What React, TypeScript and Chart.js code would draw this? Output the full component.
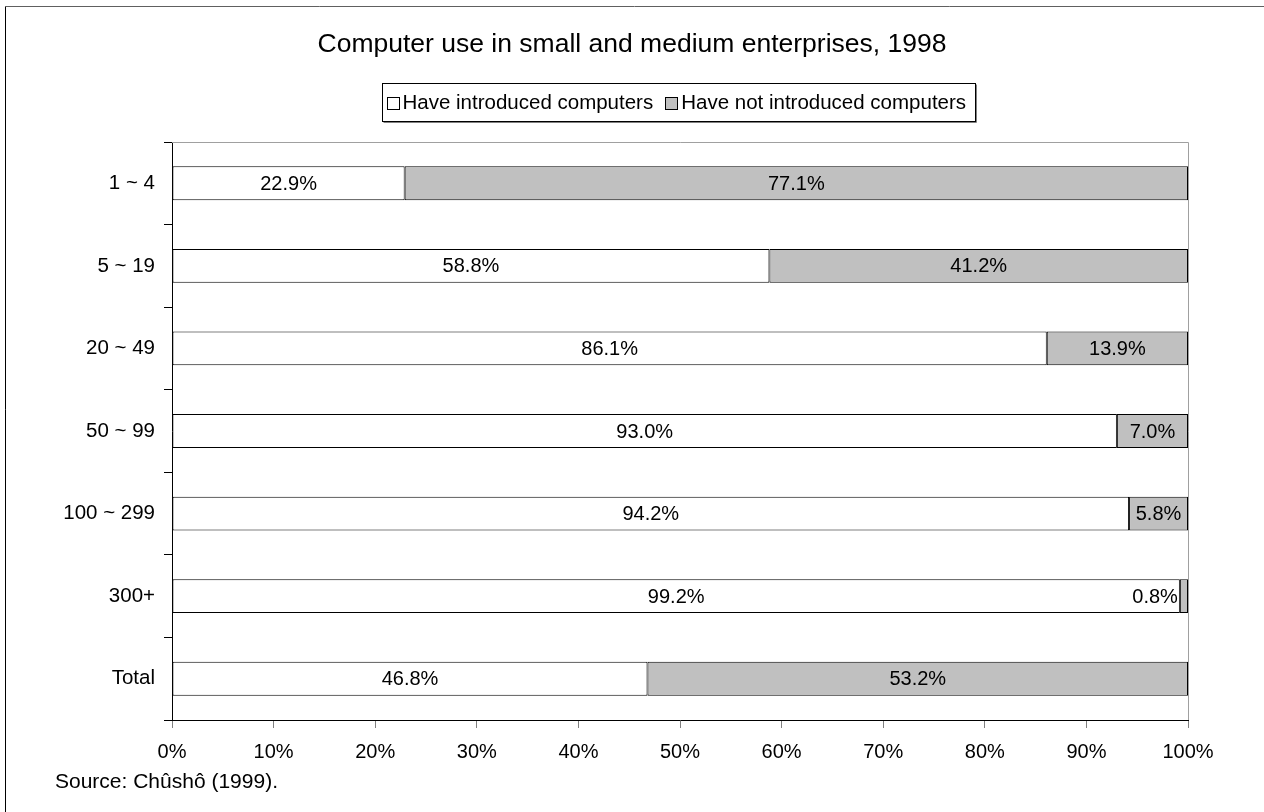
import React, { useEffect, useRef } from "react";
import { Chart, registerables } from "chart.js";

Chart.register(...registerables);

const categories = ["1 ~ 4", "5 ~ 19", "20 ~ 49", "50 ~ 99", "100 ~ 299", "300+", "Total"];
const introduced = [22.9, 58.8, 86.1, 93.0, 94.2, 99.2, 46.8];
const notIntroduced = [77.1, 41.2, 13.9, 7.0, 5.8, 0.8, 53.2];
const seriesNames = ["Have introduced computers", "Have not introduced computers"];
const seriesColors = ["#FFFFFF", "#C0C0C0"];
const titleText = "Computer use in small and medium enterprises, 1998";
const sourceText = "Source: Chûshô (1999).";

const FONT = "'Liberation Sans', Arial, sans-serif";

const decorPlugin = {
  id: "decor",
  afterDatasetsDraw(chart: any) {
    const ctx = chart.ctx;
    ctx.save();
    ctx.font = `20px ${FONT}`;
    ctx.fillStyle = "#000";
    ctx.textBaseline = "middle";
    chart.data.datasets.forEach((ds: any, di: number) => {
      const meta = chart.getDatasetMeta(di);
      meta.data.forEach((el: any, i: number) => {
        const p = el.getProps(["x", "y", "base"], true);
        const v = ds.data[i];
        const txt = v.toFixed(1) + "%";
        const w = ctx.measureText(txt).width;
        const left = Math.min(p.x, p.base);
        const right = Math.max(p.x, p.base);
        if (right - left < w + 6) {
          ctx.textAlign = "right";
          ctx.fillText(txt, left - 2, p.y + 1);
        } else {
          ctx.textAlign = "center";
          ctx.fillText(txt, (left + right) / 2, p.y + 1);
        }
      });
    });
    ctx.restore();
  },
  afterDraw(chart: any) {
    const ctx = chart.ctx;
    const a = chart.chartArea;
    ctx.save();
    // plot area top & right border
    ctx.strokeStyle = "#a0a0a0";
    ctx.lineWidth = 1;
    ctx.beginPath();
    ctx.moveTo(a.left, Math.round(a.top) + 0.5);
    ctx.lineTo(Math.round(a.right) + 0.5, Math.round(a.top) + 0.5);
    ctx.lineTo(Math.round(a.right) + 0.5, a.bottom);
    ctx.stroke();
    // outer border (left & top)
    ctx.strokeStyle = "#000";
    ctx.beginPath();
    ctx.moveTo(5.5, chart.height);
    ctx.lineTo(5.5, 6.5);
    ctx.stroke();
    ctx.strokeStyle = "#606060";
    ctx.beginPath();
    ctx.moveTo(5, 6.5);
    ctx.lineTo(chart.width, 6.5);
    ctx.stroke();
    // title
    ctx.fillStyle = "#000";
    ctx.font = `26.5px ${FONT}`;
    ctx.textAlign = "center";
    ctx.textBaseline = "middle";
    ctx.fillText(titleText, 632, 45);
    // legend
    ctx.font = `20.5px ${FONT}`;
    const sq = 12;
    const gap = 4;
    const between = 12;
    const padL = 4;
    const padR = 9;
    const w1 = ctx.measureText(seriesNames[0]).width;
    const w2 = ctx.measureText(seriesNames[1]).width;
    const total = padL + sq + gap + w1 + between + sq + gap + w2 + padR;
    const cx = (a.left + a.right) / 2 - 2;
    const bx = Math.round(cx - total / 2) + 0.5;
    const by = 83.5;
    const bh = 38;
    ctx.strokeStyle = "#000";
    ctx.strokeRect(bx, by, Math.round(total), bh);
    ctx.strokeStyle = "#808080";
    ctx.beginPath();
    ctx.moveTo(bx + 1, by + bh + 1);
    ctx.lineTo(bx + Math.round(total) + 1, by + bh + 1);
    ctx.lineTo(bx + Math.round(total) + 1, by + 1);
    ctx.stroke();
    const cy = by + bh / 2;
    let x = bx + padL;
    const drawSq = (color: string) => {
      ctx.fillStyle = color;
      ctx.fillRect(Math.round(x) + 0.5, Math.round(cy - sq / 2) + 0.5, sq, sq);
      ctx.strokeStyle = "#000";
      ctx.strokeRect(Math.round(x) + 0.5, Math.round(cy - sq / 2) + 0.5, sq, sq);
    };
    drawSq(seriesColors[0]);
    x += sq + gap;
    ctx.fillStyle = "#000";
    ctx.textAlign = "left";
    ctx.fillText(seriesNames[0], x, cy + 1);
    x += w1 + between;
    drawSq(seriesColors[1]);
    x += sq + gap;
    ctx.fillStyle = "#000";
    ctx.fillText(seriesNames[1], x, cy + 1);
    // source
    ctx.font = `21px ${FONT}`;
    ctx.textAlign = "left";
    ctx.fillText(sourceText, 55, 782);
    ctx.restore();
  },
};

export default function App() {
  const ref = useRef<HTMLCanvasElement>(null);
  useEffect(() => {
    document.body.style.margin = "0";
    const chart = new Chart(ref.current as HTMLCanvasElement, {
      type: "bar",
      data: {
        labels: categories,
        datasets: [
          {
            label: seriesNames[0],
            data: introduced,
            backgroundColor: seriesColors[0],
            borderColor: "#000",
            borderWidth: 1,
            borderSkipped: false,
            barPercentage: 0.41,
            categoryPercentage: 1,
          },
          {
            label: seriesNames[1],
            data: notIntroduced,
            backgroundColor: seriesColors[1],
            borderColor: "#000",
            borderWidth: 1,
            borderSkipped: false,
            barPercentage: 0.41,
            categoryPercentage: 1,
          },
        ],
      },
      options: {
        indexAxis: "y",
        responsive: false,
        animation: false,
        layout: { padding: { left: 0, top: 142, right: 76, bottom: 0 } },
        plugins: {
          legend: { display: false },
          title: { display: false },
          tooltip: { enabled: false },
        },
        scales: {
          x: {
            stacked: true,
            min: 0,
            max: 100,
            afterFit: (s: any) => {
              s.height = 92;
            },
            ticks: {
              stepSize: 10,
              padding: 12,
              color: "#000",
              font: { family: FONT, size: 20 },
              callback: (v: any) => v + "%",
            },
            grid: {
              drawOnChartArea: false,
              drawTicks: true,
              tickLength: 8,
              color: "#808080",
            },
            border: { display: true, color: "#000", width: 1 },
          },
          y: {
            stacked: true,
            afterFit: (s: any) => {
              s.width = 172;
            },
            ticks: {
              padding: 9,
              color: "#000",
              font: { family: FONT, size: 20.5 },
            },
            grid: {
              drawOnChartArea: false,
              drawTicks: true,
              tickLength: 8,
              color: "#000",
              offset: true,
            },
            border: { display: true, color: "#000", width: 1 },
          },
        },
      },
      plugins: [decorPlugin],
    } as any);
    return () => chart.destroy();
  }, []);
  return (
    <div style={{ position: "absolute", left: 0, top: 0, width: 1264, height: 812, background: "#fff" }}>
      <canvas ref={ref} width={1264} height={812} style={{ display: "block" }} />
    </div>
  );
}
